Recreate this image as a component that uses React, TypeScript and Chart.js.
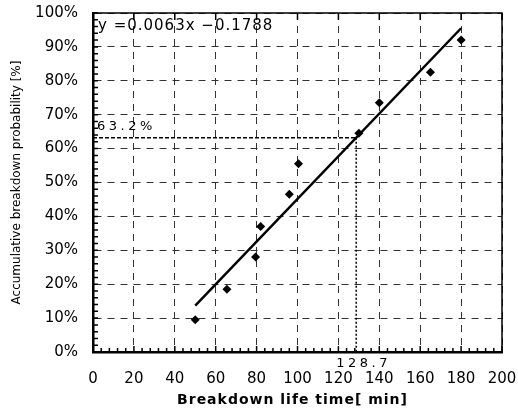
import { useEffect, useRef } from 'react';
import { Chart, registerables } from 'chart.js';

Chart.register(...registerables);

// ---- data ----
const lifeTimes = [50, 65.5, 79.5, 82, 96, 100.5, 130, 140, 165, 180];
const probabilities = [9.5, 18.5, 28, 37, 46.5, 55.5, 64.5, 73.5, 82.5, 92];
const fitX = [50, 180];
const fitY = [13.7, 95.5];
const refHX = [0, 128.7];
const refHY = [63.2, 63.2];
const refVX = [128.7, 128.7];
const refVY = [63.2, 0];
const xTickValues = [0, 20, 40, 60, 80, 100, 120, 140, 160, 180, 200];
const yTickValues = [0, 10, 20, 30, 40, 50, 60, 70, 80, 90, 100];
const equationLabel = 'y =0.0063x \u22120.1788';
const refYLabel = '63.2%';
const refXLabel = '128.7';
const xTitle = 'Breakdown life time[ min]';
const yTitle = 'Accumulative breakdown probability [%]';

const toPoints = (xs: number[], ys: number[]) => xs.map((x, i) => ({ x, y: ys[i] }));

const decorations = {
  id: 'decorations',
  afterDraw(chart: any) {
    const { ctx, chartArea: a, scales } = chart;
    const x = scales.x;
    const y = scales.y;
    ctx.save();
    ctx.strokeStyle = '#000';
    // top & right frame
    ctx.lineWidth = 1.5;
    ctx.beginPath();
    ctx.moveTo(a.left, a.top);
    ctx.lineTo(a.right, a.top);
    ctx.lineTo(a.right, a.bottom);
    ctx.stroke();
    // inward minor ticks
    ctx.lineWidth = 1.5;
    ctx.beginPath();
    for (let v = 0; v <= 100; v += 2) {
      const py = y.getPixelForValue(v);
      ctx.moveTo(a.left, py);
      ctx.lineTo(a.left + 5, py);
    }
    for (let v = 0; v <= 200; v += 4) {
      const px = x.getPixelForValue(v);
      ctx.moveTo(px, a.bottom);
      ctx.lineTo(px, a.bottom - 4);
    }
    xTickValues.forEach((v) => {
      const px = x.getPixelForValue(v);
      ctx.moveTo(px, a.top);
      ctx.lineTo(px, a.top + 7);
      ctx.moveTo(px, a.bottom);
      ctx.lineTo(px, a.bottom - 6);
    });
    ctx.stroke();

    // texts
    ctx.fillStyle = '#000';
    ctx.textAlign = 'left';
    ctx.textBaseline = 'alphabetic';
    ctx.font = '15px "DejaVu Sans"';
    (ctx as any).letterSpacing = '1px';
    ctx.fillText(equationLabel, a.left + 5, a.top + 17);

    ctx.font = '13px "DejaVu Sans"';
    (ctx as any).letterSpacing = '3.5px';
    ctx.fillText(refYLabel, x.getPixelForValue(0) + 4, y.getPixelForValue(63.2) - 8);
    ctx.fillText(refXLabel, x.getPixelForValue(128.7) - 20, a.bottom + 15);

    ctx.font = 'bold 14px "DejaVu Sans"';
    (ctx as any).letterSpacing = '1px';
    ctx.textAlign = 'center';
    ctx.fillText(xTitle, (a.left + a.right) / 2 - 5, a.bottom + 52);
    (ctx as any).letterSpacing = '0px';
    ctx.restore();
  },
};

const clearPadding = (s: any) => {
  s.paddingTop = 0;
  s.paddingBottom = 0;
  s.paddingLeft = 0;
  s.paddingRight = 0;
};

export default function App() {
  const ref = useRef<HTMLCanvasElement>(null);
  useEffect(() => {
    document.body.style.margin = '0';
    if (!ref.current) return;
    const chart = new Chart(ref.current, {
      type: 'scatter',
      data: {
        datasets: [
          {
            label: 'data',
            data: toPoints(lifeTimes, probabilities),
            pointStyle: 'rectRot',
            pointRadius: 4.5,
            backgroundColor: '#000',
            borderColor: '#000',
            borderWidth: 0,
          },
          {
            label: 'fit',
            type: 'line',
            data: toPoints(fitX, fitY),
            borderColor: '#000',
            borderWidth: 2.5,
            pointRadius: 0,
            fill: false,
          },
          {
            label: 'refH',
            type: 'line',
            data: toPoints(refHX, refHY),
            borderColor: '#000',
            borderWidth: 1.5,
            borderDash: [4, 2],
            pointRadius: 0,
            fill: false,
          },
          {
            label: 'refV',
            type: 'line',
            data: toPoints(refVX, refVY),
            borderColor: '#000',
            borderWidth: 1.5,
            borderDash: [2, 2],
            pointRadius: 0,
            fill: false,
          },
        ],
      },
      options: {
        animation: false,
        responsive: false,
        devicePixelRatio: 1,
        layout: { autoPadding: false, padding: { top: 13, right: 16, left: 0, bottom: 0 } },
        plugins: { legend: { display: false }, tooltip: { enabled: false } },
        scales: {
          x: {
            type: 'linear',
            min: 0,
            max: 200,
            afterFit: (s: any) => { s.height = 61; clearPadding(s); },
            afterBuildTicks: (s: any) => { s.ticks = xTickValues.map((v) => ({ value: v })); },
            ticks: {
              color: '#000',
              font: { family: '"DejaVu Sans"', size: 15 },
              padding: 18,
              maxRotation: 0,
            },
            grid: {
              color: '#333',
              lineWidth: 1,
              drawTicks: false,
            },
            border: { display: true, color: '#000', width: 2.5, dash: [7, 6] },
          },
          y: {
            type: 'linear',
            min: 0,
            max: 100,
            afterFit: (s: any) => { s.width = 93; clearPadding(s); },
            afterBuildTicks: (s: any) => { s.ticks = yTickValues.map((v) => ({ value: v })); },
            ticks: {
              color: '#000',
              font: { family: '"DejaVu Sans"', size: 15 },
              padding: 15,
              callback: (v: any) => `${v}%`,
            },
            grid: {
              color: '#333',
              lineWidth: 1,
              drawTicks: false,
            },
            border: { display: true, color: '#000', width: 2.5, dash: [7, 6] },
            title: {
              display: true,
              text: yTitle,
              color: '#000',
              font: { family: '"DejaVu Sans"', size: 12 },
              padding: { top: 10, bottom: 0 },
            },
          },
        },
      },
      plugins: [decorations],
    });
    return () => chart.destroy();
  }, []);
  return <canvas ref={ref} width={518} height={413} style={{ display: 'block' }} />;
}
